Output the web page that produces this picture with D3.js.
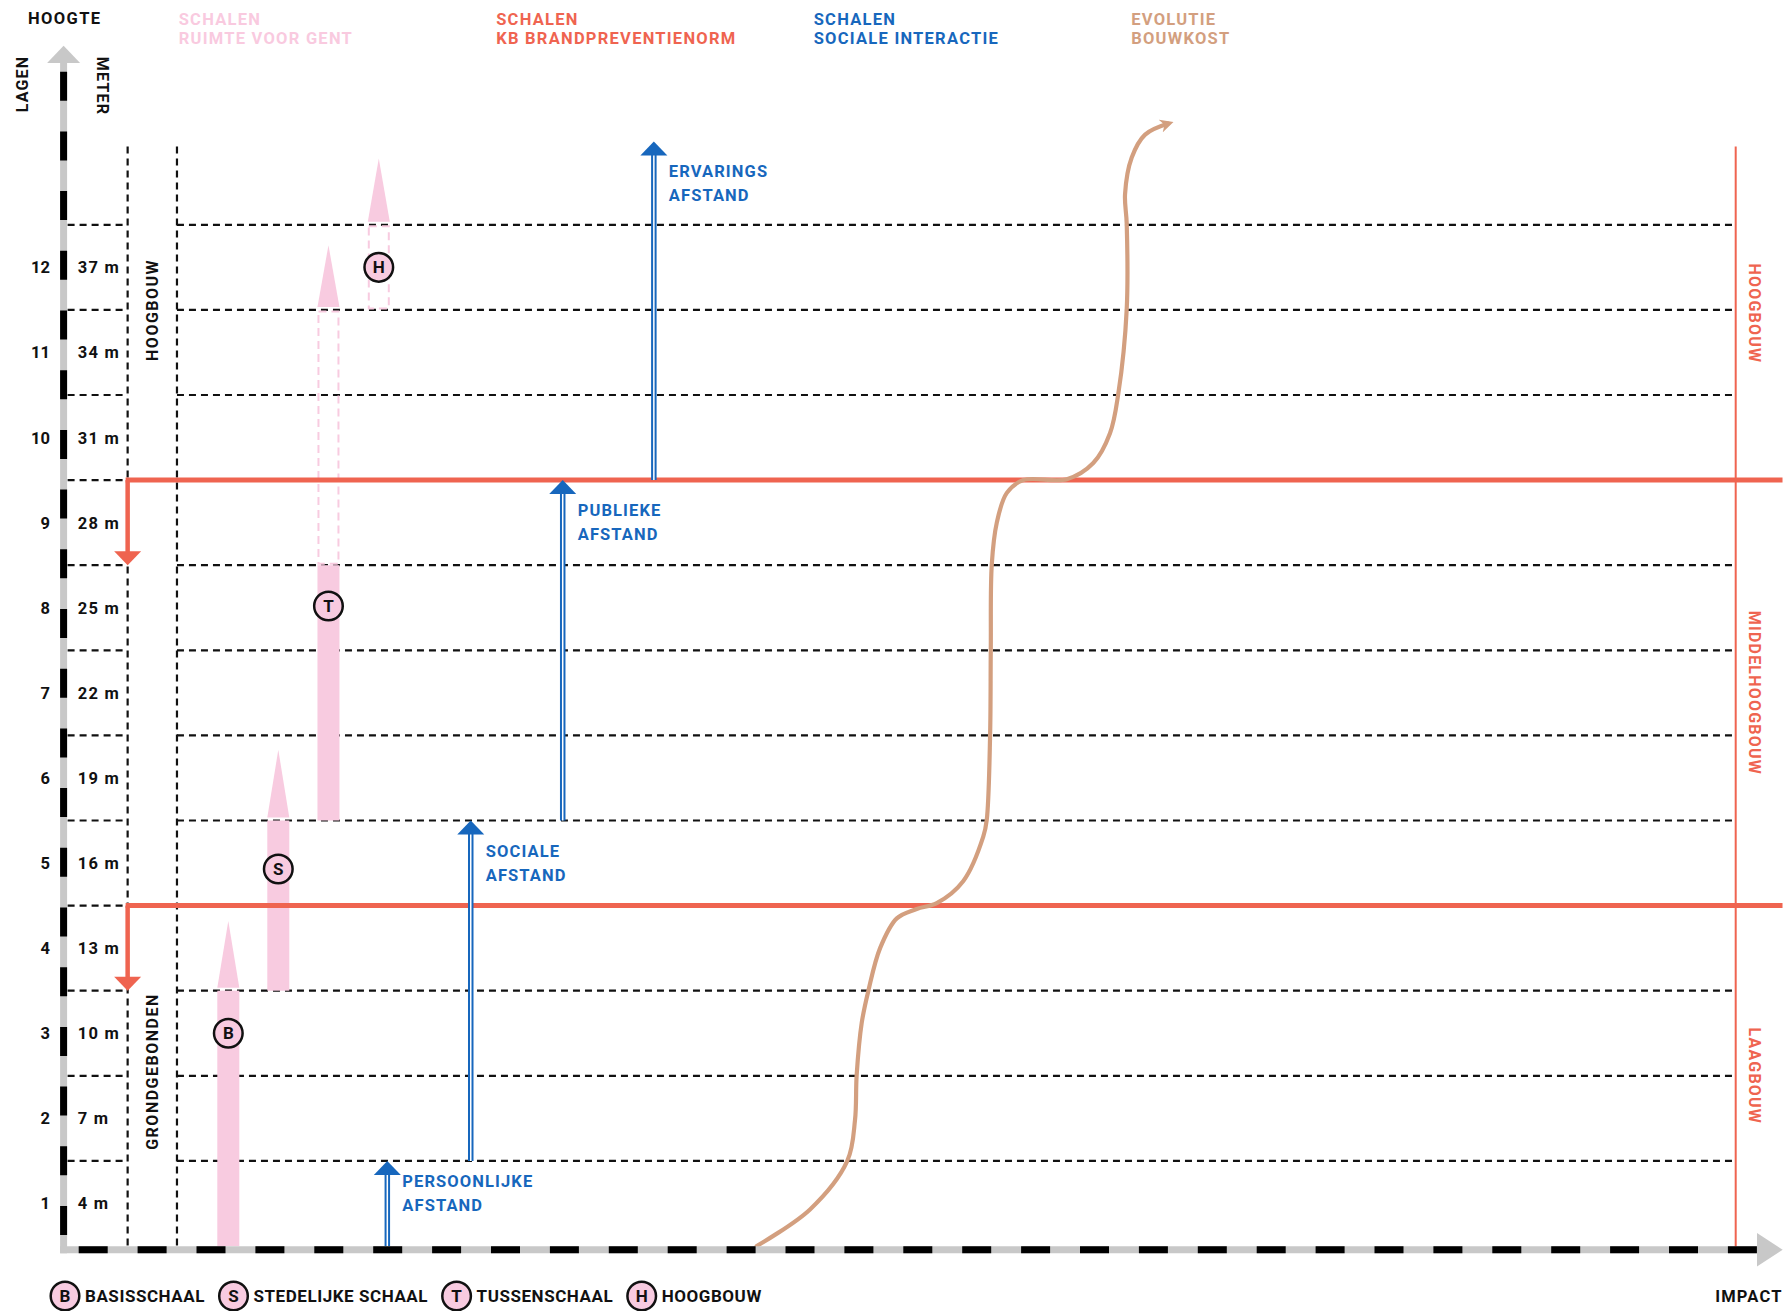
<!DOCTYPE html>
<html><head><meta charset="utf-8">
<script src="https://cdn.jsdelivr.net/npm/d3@7"></script>
<style>
html,body{margin:0;padding:0;background:#fff;}
svg{display:block;}
text{font-family:Roboto,"Open Sans",sans-serif;font-weight:700;}
</style></head><body>
<svg id="chart" width="1789" height="1311"></svg>
<script>
// ---------- DATA ----------
const lagen = [1,2,3,4,5,6,7,8,9,10,11,12];
const meters = ["4 m","7 m","10 m","13 m","16 m","19 m","22 m","25 m","28 m","31 m","34 m","37 m"];
const gridFloors = [1,2,3,4,5,6,7,8,9,10,11,12];
const brandNormFloors = [9,4];
const zoneNames = ["LAAGBOUW","MIDDELHOOGBOUW","HOOGBOUW"];
const zoneFrom = [0,4,9];
const zoneTo = [4,9,12.92];
const typeNames = ["GRONDGEBONDEN","HOOGBOUW"];
const typeCenter = [2.05,11.0];
const schaalKeys = ["B","S","T","H"];
const schaalNames = ["BASISSCHAAL","STEDELIJKE SCHAAL","TUSSENSCHAAL","HOOGBOUW"];
const schaalImpact = [9.85,12.84,15.84,18.85];
const schaalSolidFrom = [0,3,5,null];
const schaalSolidTo = [3,5,8,null];
const schaalDashFrom = [null,null,8,11];
const schaalDashTo = [null,null,11,12];
const schaalArrowTip = [3.82,5.83,11.76,12.78];
const schaalBadge = [2.5,4.43,7.52,11.5];
const afstandNames = [["PERSOONLIJKE","AFSTAND"],["SOCIALE","AFSTAND"],["PUBLIEKE","AFSTAND"],["ERVARINGS","AFSTAND"]];
const afstandImpact = [19.36,24.35,29.85,35.3];
const afstandFrom = [0,1,5,9];
const afstandTo = [1,5,9,12.98];
const kostImpact = [41.45,44.64,46.87,47.33,47.43,47.73,48.13,48.83,49.83,51.02,52.22,53.81,55.0,55.21,55.41,55.45,55.51,55.81,56.41,57.4,60.0,61.58,62.58,63.08,63.58,63.58,63.48,63.88,64.68,66.07];
const kostFloor = [0,0.43,1.0,1.48,2.01,2.62,3.0,3.5,3.85,3.96,4.03,4.29,4.81,5.01,6.01,7.01,8.01,8.5,8.85,9.0,9.01,9.2,9.55,10.02,11.01,12.01,12.36,12.79,13.06,13.19];
const titleLines = [["SCHALEN","RUIMTE VOOR GENT"],["SCHALEN","KB BRANDPREVENTIENORM"],["SCHALEN","SOCIALE INTERACTIE"],["EVOLUTIE","BOUWKOST"]];

// ---------- STYLE ----------
const PINK="#f8cbe0", PINKTXT="#f9cadf", RED="#ef6450", BLUE="#1767bd", BROWN="#d39f7f", GRAY="#c8c8c8", INK="#111";
const titleColors=[PINKTXT,RED,BLUE,BROWN];

const svg=d3.select("#chart");
const x=d3.scaleLinear().domain([0,100]).range([63.6,1735.7]);
const y=d3.scaleLinear().domain([0,13]).range([1246,1246-13*85.1]);
const TOP=y(12.92);
const zoneLineX=[3.83,6.78];
const axisY=y(0)+3.7;

// titles
svg.append("text").attr("x",28).attr("y",24).attr("font-size",16.5).attr("letter-spacing",1.4).attr("fill",INK).text("HOOGTE");
titleLines.forEach((t,i)=>{
  const g=svg.append("text").attr("font-size",16.5).attr("letter-spacing",1.25).attr("fill",titleColors[i]);
  t.forEach((l,j)=>g.append("tspan").attr("x",178.7+i*317.5).attr("y",25+j*18.5).text(l));
});
svg.append("text").attr("transform","translate(28,84) rotate(-90)").attr("text-anchor","middle").attr("font-size",16).attr("letter-spacing",1.2).attr("fill",INK).text("LAGEN");
svg.append("text").attr("transform","translate(97,86) rotate(90)").attr("text-anchor","middle").attr("font-size",16).attr("letter-spacing",1.2).attr("fill",INK).text("METER");

// grid horizontal dashed
const grid=svg.append("g").attr("stroke",INK).attr("stroke-width",2.2).attr("stroke-dasharray","7,5");
grid.selectAll("line.a").data(gridFloors).join("line").attr("class","a")
  .attr("x1",x(0)+4).attr("x2",x(zoneLineX[0])).attr("y1",d=>y(d)).attr("y2",d=>y(d));
grid.selectAll("line.b").data(gridFloors).join("line").attr("class","b")
  .attr("x1",x(zoneLineX[1])).attr("x2",x(100)).attr("y1",d=>y(d)).attr("y2",d=>y(d));
grid.selectAll("line.v").data(zoneLineX).join("line").attr("class","v")
  .attr("x1",d=>x(d)).attr("x2",d=>x(d)).attr("y1",TOP).attr("y2",axisY);

// right red vertical
svg.append("line").attr("x1",x(100)).attr("x2",x(100)).attr("y1",TOP).attr("y2",axisY).attr("stroke",RED).attr("stroke-width",2);

// row labels
svg.append("g").selectAll("text").data(lagen).join("text").attr("x",50).attr("y",d=>y(d-0.5)+6)
  .attr("text-anchor","end").attr("font-size",16.5).attr("font-weight",600).attr("fill",INK).text(d=>d);
svg.append("g").selectAll("text").data(meters).join("text").attr("x",77.7).attr("y",(d,i)=>y(lagen[i]-0.5)+6)
  .attr("font-size",16.5).attr("font-weight",600).attr("letter-spacing",1.3).attr("fill",INK).text(d=>d.replace(" ","\u00a0"));

// type labels (left column)
typeNames.forEach((t,i)=>{
  svg.append("text").attr("transform",`translate(${(x(zoneLineX[0])+x(zoneLineX[1]))/2+6},${y(typeCenter[i])}) rotate(-90)`)
    .attr("text-anchor","middle").attr("font-size",16).attr("letter-spacing",1.5).attr("fill",INK).text(t);
});
// zone labels right
zoneNames.forEach((t,i)=>{
  svg.append("text").attr("transform",`translate(${x(101.15)-6},${y((zoneFrom[i]+zoneTo[i])/2)}) rotate(90)`)
    .attr("text-anchor","middle").attr("font-size",16).attr("font-weight",500).attr("letter-spacing",1.2).attr("fill",RED).text(t);
});

// pink scales
const pg=svg.append("g");
schaalKeys.forEach((k,i)=>{
  const cx=x(schaalImpact[i]), w=22;
  if(schaalSolidFrom[i]!==null){
    pg.append("rect").attr("x",cx-w/2).attr("width",w).attr("y",y(schaalSolidTo[i])).attr("height",y(schaalSolidFrom[i])-y(schaalSolidTo[i])).attr("fill",PINK);
  }
  if(schaalDashFrom[i]!==null){
    pg.append("rect").attr("x",cx-w/2+1).attr("width",w-2).attr("y",y(schaalDashTo[i])+1.5).attr("height",y(schaalDashFrom[i])-y(schaalDashTo[i])-3)
      .attr("fill","none").attr("stroke",PINK).attr("stroke-width",2).attr("stroke-dasharray","8,5");
  }
  const top = schaalDashTo[i]!==null?schaalDashTo[i]:schaalSolidTo[i];
  const by=y(top)-3, ty=y(schaalArrowTip[i]);
  pg.append("path").attr("d",`M${cx-w/2},${by}L${cx},${ty}L${cx+w/2},${by}Z`).attr("fill",PINK);
});

// red brandnorm lines
const rg=svg.append("g");
brandNormFloors.forEach(f=>{
  const x0=x(zoneLineX[0]);
  rg.append("line").attr("x1",x0).attr("x2",x0).attr("y1",y(f)).attr("y2",y(f-1)-13).attr("stroke",RED).attr("stroke-width",4.5);
  rg.append("path").attr("d",`M${x0-13.5},${y(f-1)-14}L${x0},${y(f-1)}L${x0+13.5},${y(f-1)-14}Z`).attr("fill",RED);
  rg.append("line").attr("x1",x0-2).attr("x2",x(102.8)).attr("y1",y(f)).attr("y2",y(f)).attr("stroke",RED).attr("stroke-width",5);
});

// badges on bars
schaalKeys.forEach((k,i)=>{
  const g=svg.append("g").attr("transform",`translate(${x(schaalImpact[i])},${y(schaalBadge[i])})`);
  g.append("circle").attr("r",14.3).attr("fill",PINK).attr("stroke",INK).attr("stroke-width",2.5);
  g.append("text").attr("text-anchor","middle").attr("y",6).attr("font-size",17).attr("fill",INK).text(k);
});

// blue arrows
const bg=svg.append("g");
afstandNames.forEach((nm,i)=>{
  const cx=x(afstandImpact[i]), y0=y(afstandFrom[i]), y1=y(afstandTo[i]);
  bg.append("line").attr("x1",cx).attr("x2",cx).attr("y1",y0).attr("y2",y1+12).attr("stroke",BLUE).attr("stroke-width",5.5);
  bg.append("line").attr("x1",cx).attr("x2",cx).attr("y1",y0).attr("y2",y1+13).attr("stroke","#fff").attr("stroke-width",1.5);
  bg.append("path").attr("d",`M${cx-13.5},${y1+14}L${cx},${y1}L${cx+13.5},${y1+14}Z`).attr("fill",BLUE);
  const t=bg.append("text").attr("font-size",16.5).attr("letter-spacing",1.1).attr("fill",BLUE);
  const dy = i===0?26:36;
  nm.forEach((l,j)=>t.append("tspan").attr("x",cx+15).attr("y",y1+dy+j*24).text(l));
});

// brown curve
const defs=svg.append("defs");
defs.append("marker").attr("id","ah").attr("viewBox","0 0 10 10").attr("refX",6).attr("refY",5)
  .attr("markerWidth",3.2).attr("markerHeight",3.2).attr("orient","auto").attr("markerUnits","strokeWidth")
  .append("path").attr("d","M0,0L10,5L0,10L3,5Z").attr("fill",BROWN);
const kost=kostImpact.map((v,i)=>[v,kostFloor[i]]);
svg.append("path").datum(kost).attr("d",d3.line().x(d=>x(d[0])).y(d=>y(d[1])).curve(d3.curveCatmullRom.alpha(0.5)))
  .attr("fill","none").attr("stroke",BROWN).attr("stroke-width",4.2).attr("stroke-linecap","round").attr("marker-end","url(#ah)");

// axes
const ax=svg.append("g");
ax.append("line").attr("x1",x(0)).attr("x2",x(0)).attr("y1",axisY+3.5).attr("y2",63).attr("stroke",GRAY).attr("stroke-width",7);
ax.append("line").attr("x1",x(0)).attr("x2",x(0)).attr("y1",71.7).attr("y2",axisY).attr("stroke","#000").attr("stroke-width",7).attr("stroke-dasharray","29,30.7");
ax.append("path").attr("d",`M${x(0)-16.5},63L${x(0)},45.7L${x(0)+16.5},63Z`).attr("fill",GRAY);
ax.append("line").attr("x1",x(0)-3.5).attr("x2",1757).attr("y1",axisY).attr("y2",axisY).attr("stroke",GRAY).attr("stroke-width",7);
ax.append("line").attr("x1",78.7).attr("x2",1757).attr("y1",axisY).attr("y2",axisY).attr("stroke","#000").attr("stroke-width",7).attr("stroke-dasharray","29,29.9");
ax.append("path").attr("d",`M1757,${axisY-16.7}L1782.7,${axisY}L1757,${axisY+16.7}Z`).attr("fill",GRAY);

// legend
let lx=50.5;
schaalKeys.forEach((k,i)=>{
  const g=svg.append("g").attr("transform",`translate(${lx+14.5},1296)`);
  g.append("circle").attr("r",14.3).attr("fill",PINK).attr("stroke",INK).attr("stroke-width",2.5);
  g.append("text").attr("text-anchor","middle").attr("y",6).attr("font-size",17).attr("fill",INK).text(k);
  const t=svg.append("text").attr("x",lx+34.5).attr("y",1302).attr("font-size",17).attr("letter-spacing",0.55).attr("fill",INK).text(schaalNames[i]);
  lx = lx+34.5+t.node().getComputedTextLength()+14;
});
svg.append("text").attr("x",1782.7).attr("y",1302).attr("text-anchor","end").attr("font-size",16.5).attr("letter-spacing",1.2).attr("fill",INK).text("IMPACT");
</script>
</body></html>
